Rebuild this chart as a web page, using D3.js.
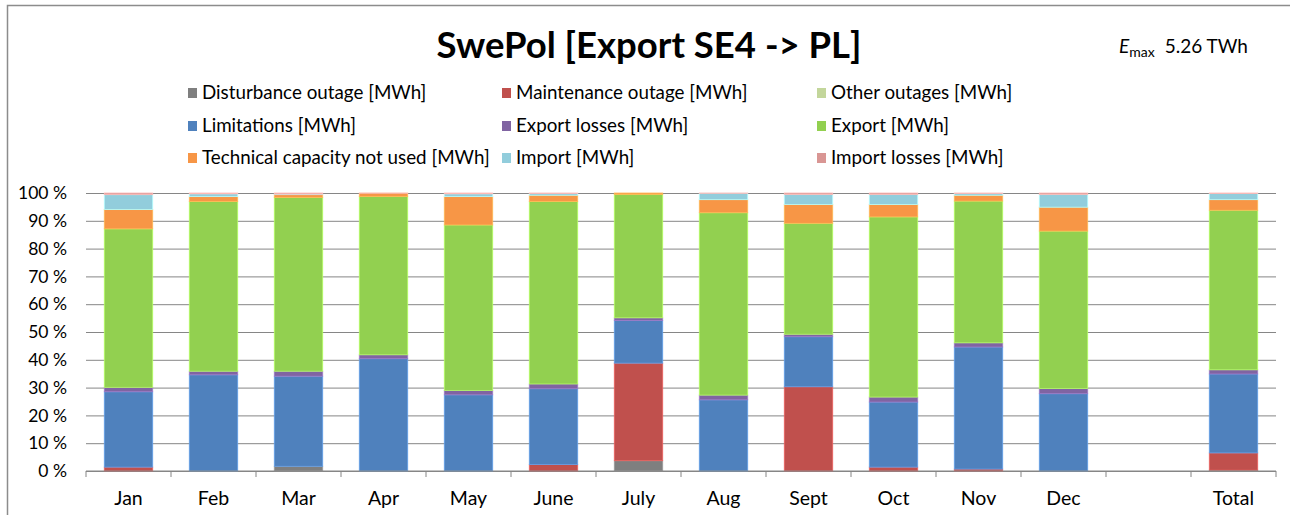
<!DOCTYPE html>
<html>
<head>
<meta charset="utf-8">
<script src="https://cdn.jsdelivr.net/npm/d3@7"></script>
<style>
  body { margin: 0; background: #fff; }
  svg { display: block; font-family: Lato, "Open Sans", sans-serif; }
</style>
</head>
<body>
<div id="viz"></div>
<script>
const width = 1290;
const height = 515;
const margin = {top: 193, right: 14, bottom: 44, left: 86};

// categories (one empty slot before Total)
const months = ['Jan', 'Feb', 'Mar', 'Apr', 'May', 'June', 'July', 'Aug', 'Sept', 'Oct', 'Nov', 'Dec', '', 'Total'];

const seriesNames = [
  'Disturbance outage [MWh]', 'Maintenance outage [MWh]', 'Other outages [MWh]',
  'Limitations [MWh]', 'Export losses [MWh]', 'Export [MWh]',
  'Technical capacity not used [MWh]', 'Import [MWh]', 'Import losses [MWh]'
];
const seriesColors = ['#7f7f7f', '#c0504d', '#c3d69b', '#4f81bd', '#8064a2', '#92d050', '#f79646', '#92cddc', '#d99694'];

// shares in % (empty slot = null)
const disturbance = [0, 0, 1.7, 0, 0, 0, 3.7, 0, 0, 0, 0, 0, null, 0.3];
const maintenance = [1.4, 0, 0, 0, 0, 2.3, 35.1, 0, 30.3, 1.4, 0.7, 0, null, 6.2];
const otherOutages = [0, 0, 0, 0, 0, 0, 0, 0, 0, 0, 0, 0, null, 0];
const limitations = [27.1, 34.6, 32.4, 40.4, 27.4, 27.3, 15.3, 25.6, 18.0, 23.4, 43.9, 27.8, null, 28.4];
const exportLosses = [1.6, 1.3, 1.8, 1.4, 1.6, 1.7, 1.0, 1.7, 0.9, 1.8, 1.5, 1.9, null, 1.5];
const exportVals = [57.0, 61.0, 62.5, 56.9, 59.5, 65.6, 44.4, 65.6, 39.9, 64.8, 51.0, 56.6, null, 57.4];
const techNotUsed = [7.0, 1.8, 1.0, 1.2, 10.2, 2.3, 0.5, 4.7, 6.8, 4.5, 2.1, 8.6, null, 3.8];
const importVals = [5.3, 1.0, 0.2, 0.0, 1.0, 0.6, 0, 2.3, 3.6, 3.6, 0.6, 4.6, null, 2.2];
const importLosses = [0.6, 0.3, 0.4, 0.1, 0.3, 0.2, 0, 0.1, 0.5, 0.5, 0.2, 0.5, null, 0.2];

const yTicks = [0, 10, 20, 30, 40, 50, 60, 70, 80, 90, 100];

const seriesValues = [disturbance, maintenance, otherOutages, limitations, exportLosses,
  exportVals, techNotUsed, importVals, importLosses];

const table = months.map((m, i) => {
  const row = {slot: i + '', label: m, empty: m === ''};
  seriesNames.forEach((s, k) => { row[s] = seriesValues[k][i] || 0; });
  return row;
});

const svg = d3.select('#viz')
  .append('svg')
    .attr('width', width)
    .attr('height', height);

// chart border (Excel frame)
svg.append('rect')
  .attr('x', 7.5).attr('y', 5.5)
  .attr('width', width + 10).attr('height', height + 10)
  .attr('fill', 'none')
  .attr('stroke', '#8c8c8c')
  .attr('stroke-width', 1.5);

// title
svg.append('text')
  .attr('x', 649).attr('y', 58)
  .attr('text-anchor', 'middle')
  .style('font-size', '36.5px')
  .style('font-weight', 700)
  .attr('fill', '#000')
  .text('SwePol [Export SE4 -> PL]');

const emax = svg.append('text')
  .attr('x', 1119).attr('y', 53)
  .style('font-size', '19px')
  .attr('fill', '#000');
emax.append('tspan').style('font-style', 'italic').text('E');
emax.append('tspan').attr('dy', 4).style('font-size', '14px').text('max');
emax.append('tspan').attr('dy', -4).attr('dx', 10).text('5.26 TWh');

// legend
const legendX = [193, 507, 822];
const legendY = [93, 126, 158];
const legend = svg.append('g').attr('class', 'legend');
seriesNames.forEach((s, k) => {
  const lx = legendX[k % 3];
  const ly = legendY[Math.floor(k / 3)];
  legend.append('rect')
    .attr('x', lx - 5).attr('y', ly - 5)
    .attr('width', 9).attr('height', 10)
    .attr('fill', seriesColors[k]);
  legend.append('text')
    .attr('x', lx + 9).attr('y', ly + 6)
    .style('font-size', '18.8px')
    .attr('fill', '#000')
    .text(s);
});

// scales
const xScale = d3.scaleBand()
  .domain(table.map(d => d.slot))
  .range([margin.left, width - margin.right])
  .paddingInner(0.43)
  .paddingOuter(0.215);
const slotScale = d3.scaleBand()
  .domain(table.map(d => d.slot))
  .range([margin.left, width - margin.right]);
const yScale = d3.scaleLinear()
  .domain([0, 100])
  .range([height - margin.bottom, margin.top]);

// gridlines + y labels
const yAxis = d3.axisLeft(yScale)
  .tickValues(yTicks)
  .tickFormat(d => d + ' %')
  .tickSize(-(width - margin.left - margin.right))
  .tickPadding(19);
const yAxisGroup = svg.append('g')
  .attr('transform', `translate(${margin.left}, 0)`)
  .call(yAxis);
yAxisGroup.select('.domain').remove();
yAxisGroup.selectAll('.tick line')
  .attr('stroke', '#868686')
  .attr('stroke-width', 1);
yAxisGroup.selectAll('.tick text')
  .style('font-size', '17.5px')
  .style('font-family', 'Lato, sans-serif')
  .attr('fill', '#000');

// stacked bars
const stack = d3.stack().keys(seriesNames);
const layers = stack(table);
svg.append('g')
  .selectAll('g')
  .data(layers)
  .join('g')
    .attr('fill', (d, i) => seriesColors[i])
    .attr('stroke', (d, i) => d3.color(seriesColors[i]).brighter(0.6))
    .attr('stroke-width', 0.8)
  .selectAll('rect')
  .data(d => d.filter(p => !p.data.empty && p[1] - p[0] > 0))
  .join('rect')
    .attr('x', d => xScale(d.data.slot))
    .attr('width', xScale.bandwidth())
    .attr('y', d => yScale(d[1]))
    .attr('height', d => yScale(d[0]) - yScale(d[1]));

// x axis: baseline with ticks at slot boundaries
const xBase = yScale(0);
const xAxisGroup = svg.append('g');
xAxisGroup.append('line')
  .attr('x1', margin.left).attr('x2', width - margin.right)
  .attr('y1', xBase).attr('y2', xBase)
  .attr('stroke', '#868686')
  .attr('stroke-width', 1);
const boundaries = table.map(d => slotScale(d.slot)).concat([width - margin.right]);
xAxisGroup.selectAll('.xtick')
  .data(boundaries)
  .join('line')
    .attr('class', 'xtick')
    .attr('x1', d => d).attr('x2', d => d)
    .attr('y1', xBase).attr('y2', xBase + 6)
    .attr('stroke', '#868686');
xAxisGroup.selectAll('.xlabel')
  .data(table)
  .join('text')
    .attr('class', 'xlabel')
    .attr('x', d => xScale(d.slot) + xScale.bandwidth() / 2)
    .attr('y', xBase + 34)
    .attr('text-anchor', 'middle')
    .style('font-size', '19.5px')
    .attr('fill', '#000')
    .text(d => d.label);
</script>
</body>
</html>
